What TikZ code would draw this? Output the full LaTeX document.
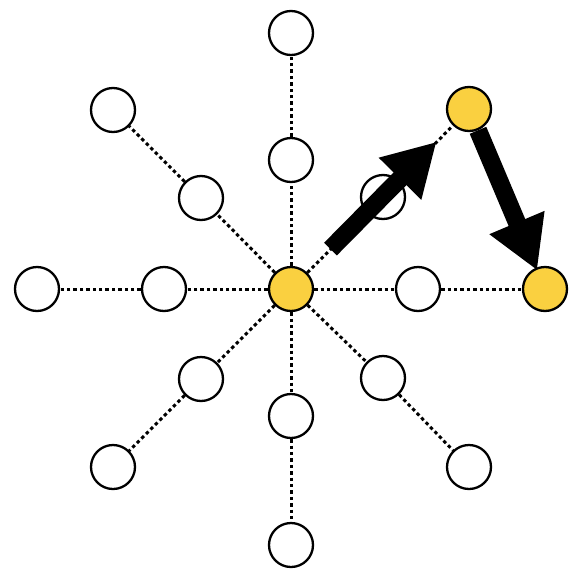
\documentclass[tikz,border=0pt]{standalone}
\usetikzlibrary{arrows.meta}
\definecolor{gold}{RGB}{250,208,64}
\tikzset{
  vert/.style={circle,draw=black,line width=2.3pt,fill=white,minimum size=44pt,inner sep=0pt},
  hot/.style={vert,fill=gold},
  link/.style={line width=3pt,dash pattern=on 3.4pt off 3pt},
  bigarrow/.style={line width=18pt,-{Triangle[length=52pt,width=56pt]}}
}
\begin{document}
\begin{tikzpicture}[x=1pt,y=-1pt]
\useasboundingbox (0,0) rectangle (584,584);
\node[hot] (c) at (291,289) {};
\node[vert] (n1) at (291,160) {};
\node[vert] (n2) at (291,33) {};
\node[vert] (s1) at (291,416) {};
\node[vert] (s2) at (291,545) {};
\node[vert] (w1) at (164,289) {};
\node[vert] (w2) at (37,289) {};
\node[vert] (e1) at (418,289) {};
\node[hot] (e2) at (545,289) {};
\node[vert] (nw1) at (201,198) {};
\node[vert] (nw2) at (113,110) {};
\node[vert] (ne1) at (383,197) {};
\node[hot] (ne2) at (469,109) {};
\node[vert] (sw1) at (201,379) {};
\node[vert] (sw2) at (113,467) {};
\node[vert] (se1) at (383,378) {};
\node[vert] (se2) at (469,467) {};
\foreach \a/\b in {n1/n2,s1/s2,w1/w2,e1/e2,nw1/nw2,ne1/ne2,sw1/sw2,se1/se2}{
  \draw[link] (c) -- (\a);
  \draw[link] (\a) -- (\b);
}
\draw[bigarrow,shorten <=33pt,shorten >=23pt] (c) -- (ne2);
\draw[bigarrow,shorten <=0pt,shorten >=-3pt] (ne2) -- (e2);
\end{tikzpicture}
\end{document}
